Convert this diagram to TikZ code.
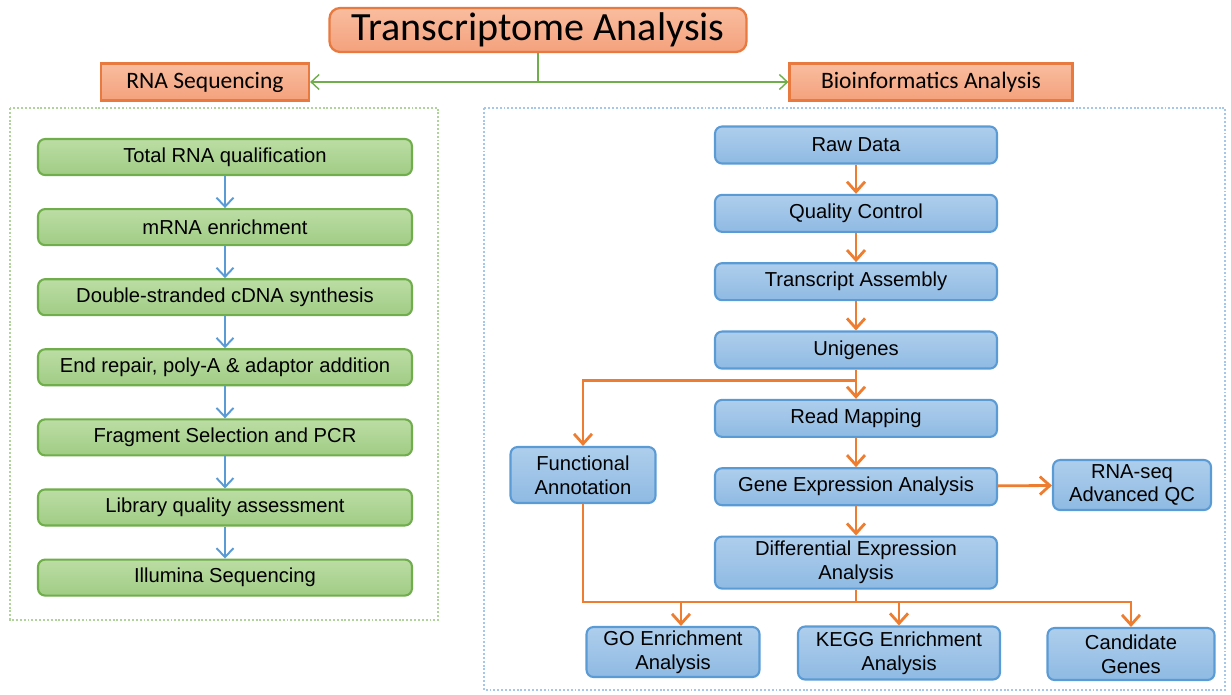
\documentclass[tikz,border=0pt]{standalone}
\usepackage{fontspec}
\setmainfont{Liberation Sans}
\newfontfamily\calfont{Carlito}
\usetikzlibrary{arrows.meta,positioning}
\definecolor{orgline}{HTML}{E8793F}
\definecolor{orgtop}{HTML}{F9BD9F}
\definecolor{orgbot}{HTML}{F4A17C}
\definecolor{grnline}{HTML}{6FAE4A}
\definecolor{grntop}{HTML}{BCDDA5}
\definecolor{grnbot}{HTML}{A0CC84}
\definecolor{bluline}{HTML}{5B9BD5}
\definecolor{blutop}{HTML}{AECEEC}
\definecolor{blubot}{HTML}{8FBAE3}
\definecolor{arrorg}{HTML}{ED7D31}
\tikzset{
  obox/.style={draw=orgline,line width=1.3pt,top color=orgtop,bottom color=orgbot,
               font=\calfont\fontsize{13.4}{15}\selectfont,minimum height=7.4mm,inner sep=2pt},
  gbox/.style={draw=grnline,line width=1.2pt,rounded corners=4pt,top color=grntop,bottom color=grnbot,
               minimum width=74.8mm,minimum height=7.2mm,inner sep=2pt},
  bbox/.style={draw=bluline,line width=1.2pt,rounded corners=4pt,top color=blutop,bottom color=blubot,
               align=center,minimum width=56.4mm,minimum height=7.4mm,inner sep=2pt},
  gframe/.style={draw=grnline!55,line width=1.2pt,dash pattern=on 1.1pt off 1.1pt},
  bframe/.style={draw=bluline!55,line width=1.2pt,dash pattern=on 1.1pt off 1.1pt},
  gnyil/.style={draw=grnline,line width=0.8pt,-{Straight Barb[length=1.6mm,width=3mm]}},
  bnyil/.style={draw=bluline,line width=1.1pt,-{Straight Barb[length=1.8mm,width=3.4mm]}},
  onyil/.style={draw=arrorg,line width=1.6pt,-{Straight Barb[length=2mm,width=3.6mm]}},
  ovonal/.style={draw=arrorg,line width=1.6pt},
}
\begin{document}
\begin{tikzpicture}[x=0.02cm,y=-0.02cm,font=\fontsize{11.5}{13.5}\selectfont]
  \useasboundingbox (0,0) rectangle (1231,694);
  % dotted frames
  \draw[gframe] (10,108) rectangle (438,620);
  \draw[bframe] (484,108) rectangle (1225,690);
  % header
  \node[obox,rounded corners=6pt,font=\calfont\fontsize{22.8}{26}\selectfont,
        minimum width=83.4mm,minimum height=8.8mm] (T) at (538,30) {Transcriptome Analysis};
  \node[obox,minimum width=41.6mm] (R) at (205,82) {RNA Sequencing};
  \node[obox,minimum width=56.6mm] (B) at (931,82) {Bioinformatics Analysis};
  \draw[gnyil] (T.south) -- (T.south |- R.east) coordinate (mid) -- (R.east);
  \draw[gnyil] (mid) -- (B.west);
  % RNA sequencing
  \begin{scope}[node distance=6.4mm]
    \node[gbox] (g1) at (225,157) {Total RNA qualification};
    \node[gbox,below=of g1] (g2) {mRNA enrichment};
    \node[gbox,below=of g2] (g3) {Double-stranded cDNA synthesis};
    \node[gbox,below=of g3] (g4) {End repair, poly-A \& adaptor addition};
    \node[gbox,below=of g4] (g5) {Fragment Selection and PCR};
    \node[gbox,below=of g5] (g6) {Library quality assessment};
    \node[gbox,below=of g6] (g7) {Illumina Sequencing};
  \end{scope}
  \foreach \a/\b in {g1/g2,g2/g3,g3/g4,g4/g5,g5/g6,g6/g7}
    \draw[bnyil] (\a) -- (\b);
  % bioinformatics
  \begin{scope}[node distance=5.85mm]
    \node[bbox] (r1) at (856,145) {Raw Data};
    \node[bbox,below=of r1] (r2) {Quality Control};
    \node[bbox,below=of r2] (r3) {Transcript Assembly};
    \node[bbox,below=of r3] (r4) {Unigenes};
    \node[bbox,below=of r4] (r5) {Read Mapping};
    \node[bbox,below=of r5] (r6) {Gene Expression Analysis};
    \node[bbox,below=of r6,minimum height=10.4mm] (r7) {Differential Expression\\Analysis};
  \end{scope}
  \node[bbox,minimum width=29mm,minimum height=11.2mm] (fa) at (583,475) {Functional\\Annotation};
  \node[bbox,minimum width=31.6mm,minimum height=10mm] (qc) at (1132,485) {RNA-seq\\Advanced QC};
  \node[bbox,minimum width=34.6mm,minimum height=10mm] (go) at (673,652) {GO Enrichment\\Analysis};
  \node[bbox,minimum width=40.4mm,minimum height=10.6mm] (kg) at (899,653) {KEGG Enrichment\\Analysis};
  \node[bbox,minimum width=33.4mm,minimum height=10.4mm] (cg) at (1131,654) {Candidate\\Genes};
  \foreach \a/\b in {r1/r2,r2/r3,r3/r4,r4/r5,r5/r6,r6/r7}
    \draw[onyil] (\a) -- (\b);
  \draw[onyil] (r6) -- (qc);
  \draw[onyil] (r4.south) ++(0,11) coordinate (split) -| (fa.north);
  \coordinate (bus) at (0,602);
  \draw[onyil] (fa.south) |- (bus -| cg.north) -- (cg.north);
  \draw[ovonal] (r7.south) -- (r7.south |- bus);
  \draw[onyil] ([xshift=1.6mm]bus -| go.north) -- ([xshift=1.6mm]go.north);
  \draw[onyil] (bus -| kg.north) -- (kg.north);
\end{tikzpicture}
\end{document}
